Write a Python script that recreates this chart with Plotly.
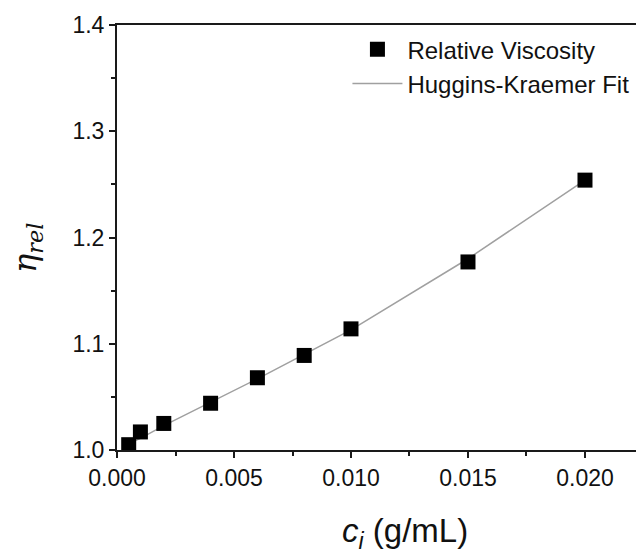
import plotly.graph_objects as go

# Data
conc = [0.0005, 0.001, 0.002, 0.004, 0.006, 0.008, 0.010, 0.015, 0.020]
eta_rel = [1.005, 1.017, 1.025, 1.044, 1.068, 1.089, 1.114, 1.177, 1.254]
fit_conc = [0.0005, 0.001, 0.002, 0.004, 0.006, 0.008, 0.010, 0.015, 0.020]
fit_eta = [1.006, 1.011, 1.023, 1.045, 1.067, 1.090, 1.113, 1.180, 1.254]

x_ticks = [0.000, 0.005, 0.010, 0.015, 0.020]
y_ticks = [1.0, 1.1, 1.2, 1.3, 1.4]

FONT = "Liberation Sans, Arial, sans-serif"
AX = "#1a1a1a"

fig = go.Figure()
fig.add_trace(go.Scatter(
    x=fit_conc, y=fit_eta, mode="lines", name="Huggins-Kraemer Fit",
    line=dict(color="#a0a0a0", width=1.5),
))
fig.add_trace(go.Scatter(
    x=conc, y=eta_rel, mode="markers", name="Relative Viscosity",
    marker=dict(symbol="square", size=15, color="black", line=dict(width=0)),
))

fig.update_layout(
    width=636, height=553,
    margin=dict(l=117, r=0, t=25, b=103),
    paper_bgcolor="white", plot_bgcolor="white",
    font=dict(family=FONT, size=23, color="#111"),
    showlegend=True,
    legend=dict(
        x=0.444, y=0.995, xanchor="left", yanchor="top",
        bgcolor="rgba(0,0,0,0)", borderwidth=0,
        font=dict(size=24, family=FONT, color="#111"),
        traceorder="reversed", tracegroupgap=0, itemwidth=50,
    ),
    xaxis=dict(
        range=[0, 0.02218], tickvals=x_ticks, ticktext=[f"{v:.3f}" for v in x_ticks],
        showgrid=False, zeroline=False,
        showline=True, linecolor=AX, linewidth=2, mirror=True,
        ticks="outside", ticklen=6, tickwidth=2, tickcolor=AX,
        minor=dict(dtick=0.0025, tick0=0, ticks="outside", ticklen=4, tickwidth=1.5, tickcolor=AX),
        tickfont=dict(size=23, family=FONT, color="#111"),
    ),
    yaxis=dict(
        range=[1.0, 1.4], tickvals=y_ticks, ticktext=[f"{v:.1f}" for v in y_ticks],
        showgrid=False, zeroline=False,
        showline=True, linecolor=AX, linewidth=2, mirror=False,
        ticks="outside", ticklen=6, tickwidth=2, tickcolor=AX,
        minor=dict(dtick=0.05, tick0=1.0, ticks="outside", ticklen=4, tickwidth=1.5, tickcolor=AX),
        tickfont=dict(size=23, family=FONT, color="#111"),
    ),
    annotations=[
        dict(
            text="<i>c</i><sub><i>i</i></sub> (g/mL)", xref="paper", yref="paper",
            x=(405 - 117) / 519, y=-(533 - 450) / 425, xanchor="center", yanchor="middle",
            showarrow=False, font=dict(size=33, family=FONT, color="#111"),
        ),
        dict(
            text="<i>η</i><sub><i>rel</i></sub>", xref="paper", yref="paper",
            x=-(117 - 27) / 519, y=(450 - 248) / 425, xanchor="center", yanchor="middle",
            textangle=-90, showarrow=False,
            font=dict(size=32, family="DejaVu Serif, Liberation Serif, serif", color="#111"),
        ),
    ],
)

fig.write_html("out.html")
